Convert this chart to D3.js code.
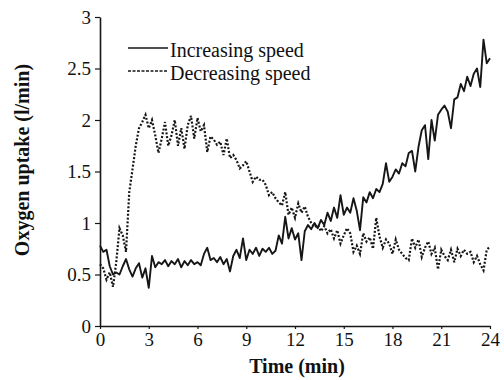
<!DOCTYPE html>
<html>
<head>
<meta charset="utf-8">
<script src="https://cdn.jsdelivr.net/npm/d3@7"></script>
<style>
  html, body { margin: 0; padding: 0; background: #fff; }
  svg { display: block; }
  text { font-family: "Liberation Serif", "Times New Roman", serif; fill: #111; }
</style>
</head>
<body>
<svg id="chart" width="504" height="380"></svg>
<script>
// ---- data ----
const sampleMinutes = 0.2; // time between samples (min)
const xTicks = [0, 3, 6, 9, 12, 15, 18, 21, 24];
const yTicks = [0, 0.5, 1, 1.5, 2, 2.5, 3];
const seriesNames = ["Increasing speed", "Decreasing speed"];
const increasing = [
  0.78, 0.72, 0.74, 0.58, 0.50,
  0.52, 0.50, 0.58, 0.65, 0.55,
  0.48, 0.56, 0.61, 0.47, 0.56,
  0.37, 0.68, 0.57, 0.62, 0.60,
  0.64, 0.58, 0.63, 0.60, 0.65,
  0.57, 0.63, 0.59, 0.64, 0.60,
  0.62, 0.59, 0.70, 0.76, 0.64,
  0.66, 0.62, 0.67, 0.60, 0.65,
  0.53, 0.68, 0.74, 0.66, 0.85,
  0.64, 0.74, 0.70, 0.76, 0.68,
  0.75, 0.72, 0.76, 0.70, 0.73,
  0.88, 0.80, 1.06, 0.85, 0.95,
  0.84, 0.90, 0.64, 0.92, 0.98,
  0.94, 1.00, 0.95, 1.03, 0.98,
  1.10, 1.02, 1.15, 1.05, 1.27,
  1.08, 1.15, 1.10, 1.24, 1.12,
  0.93, 1.25, 1.20, 1.30, 1.24,
  1.33, 1.30, 1.38, 1.58, 1.40,
  1.45, 1.52, 1.48, 1.58, 1.55,
  1.68, 1.70, 1.50, 1.74, 1.90,
  1.95, 1.62, 2.00, 1.80, 2.05,
  2.10, 2.14, 2.08, 1.92, 2.20,
  2.22, 2.35, 2.28, 2.42, 2.33,
  2.45, 2.50, 2.32, 2.78, 2.55,
  2.60
];
const decreasing = [
  0.60, 0.56, 0.45, 0.52, 0.38,
  0.62, 0.95, 0.88, 0.72, 1.30,
  1.52, 1.75, 1.92, 1.98, 2.05,
  1.92, 2.00, 1.85, 1.68, 1.82,
  1.98, 1.75, 1.85, 2.00, 1.75,
  1.92, 1.72, 1.95, 2.04, 1.82,
  2.02, 1.89, 1.95, 1.69, 1.84,
  1.81, 1.76, 1.79, 1.66, 1.82,
  1.63, 1.66, 1.61, 1.53, 1.56,
  1.60, 1.50, 1.40, 1.45, 1.42,
  1.42, 1.37, 1.27, 1.30, 1.24,
  1.20, 1.17, 1.30, 1.08, 1.15,
  1.05, 1.19, 1.10, 1.16, 1.06,
  1.00, 0.96, 0.98, 0.92, 0.97,
  0.90, 0.94, 0.85, 0.93, 0.80,
  0.88, 0.95, 0.90, 0.72, 0.78,
  0.70, 0.90, 0.82, 0.86, 0.75,
  1.05, 0.87, 0.76, 0.84, 0.80,
  0.70, 0.84, 0.74, 0.70, 0.66,
  0.64, 0.85, 0.76, 0.84, 0.67,
  0.76, 0.82, 0.70, 0.76, 0.55,
  0.74, 0.68, 0.64, 0.74, 0.62,
  0.75, 0.68, 0.74, 0.70, 0.72,
  0.62, 0.68, 0.60, 0.54, 0.74,
  0.77
];

// ---- layout ----
const plot = { left: 100, right: 490, top: 17, bottom: 326 };
const svg = d3.select("#chart");

const x = d3.scaleLinear().domain([0, 24]).range([plot.left, plot.right]);
const y = d3.scaleLinear().domain([0, 3]).range([plot.bottom, plot.top]);

const ink = "#161616";

// axes
const xAxis = d3.axisBottom(x).tickValues(xTicks).tickSize(3).tickPadding(4).tickSizeOuter(0);
const yAxis = d3.axisLeft(y).tickValues(yTicks).tickSize(5).tickPadding(4).tickSizeOuter(0)
  .tickFormat(d => String(d));

const gx = svg.append("g").attr("transform", `translate(0,${plot.bottom})`).call(xAxis);
const gy = svg.append("g").attr("transform", `translate(${plot.left},0)`).call(yAxis);
[gx, gy].forEach(g => {
  g.select(".domain").attr("stroke", ink).attr("stroke-width", 1.6);
  g.selectAll(".tick line").attr("stroke", ink).attr("stroke-width", 1.2);
  g.selectAll(".tick text").attr("font-family", "Liberation Serif").attr("font-size", 19).attr("fill", ink);
});

// lines
const line = d3.line().x((d, i) => x(i * sampleMinutes)).y(d => y(d));

svg.append("path").datum(decreasing)
  .attr("fill", "none").attr("stroke", ink).attr("stroke-width", 2.2)
  .attr("stroke-dasharray", "2,1.8")
  .attr("d", line);

svg.append("path").datum(increasing)
  .attr("fill", "none").attr("stroke", ink).attr("stroke-width", 1.9)
  .attr("stroke-linejoin", "round")
  .attr("d", line);

// legend
const legend = svg.append("g");
const legendRows = [
  { name: seriesNames[0], dash: null, ly: 48 },
  { name: seriesNames[1], dash: "3,1.5", ly: 71 }
];
legendRows.forEach(r => {
  legend.append("line")
    .attr("x1", 128).attr("x2", 168).attr("y1", r.ly).attr("y2", r.ly)
    .attr("stroke", ink).attr("stroke-width", 1.4)
    .attr("stroke-dasharray", r.dash);
  legend.append("text")
    .attr("x", 170).attr("y", r.ly + 9)
    .attr("font-size", 20)
    .text(r.name);
});

// axis titles
svg.append("text")
  .attr("x", 297).attr("y", 373)
  .attr("text-anchor", "middle")
  .attr("font-size", 20).attr("font-weight", "bold")
  .text("Time (min)");

svg.append("text")
  .attr("transform", "translate(29,160) rotate(-90)")
  .attr("text-anchor", "middle")
  .attr("font-size", 20).attr("font-weight", "bold")
  .text("Oxygen uptake (l/min)");
</script>
</body>
</html>
